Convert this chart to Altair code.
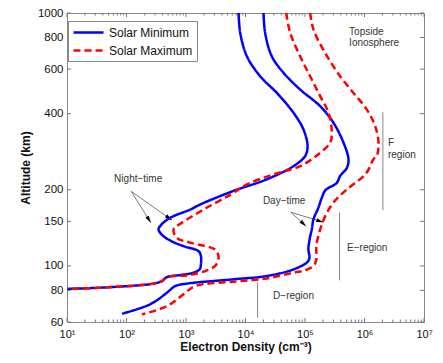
import math
import altair as alt
import pandas as pd

# ---------------- data ----------------
series_names = ["Solar Minimum", "Solar Maximum"]

min_night_h = [1000, 834, 674, 562, 483, 403, 346, 297, 272, 248, 220, 198, 175, 167, 155, 145,
               139.3, 131, 124, 119.7, 114.4, 109.4, 101.4, 97, 94, 92, 90.3, 87.1, 85.1, 82, 81.1]
min_night_n = [7650, 8150, 10570, 17660, 33650, 64100, 94400, 110400, 100700, 64100, 22860, 6310,
               1740, 1180, 543, 380, 345, 419, 620, 908, 1622, 1780, 1780, 1700, 1336, 800, 477,
               394, 285, 36, 10]

min_day_h = [1000, 834, 674, 580, 498, 428, 368, 307, 264, 244, 227, 213, 199, 185, 170, 153,
             139.4, 128, 116, 109, 106, 103, 96.8, 91.2, 88.5, 85.1, 83.2, 78.3, 70.5, 64.7]
min_day_n = [20100, 21400, 27700, 43600, 83000, 180000, 301000, 444000, 538000, 505000, 390000,
             342000, 220000, 190000, 168000, 139000, 130000, 120000, 114000, 119000, 117000,
             107000, 63800, 22800, 6280, 1035, 659, 477, 250, 84]

max_night_h = [1000, 834, 674, 562, 469, 403, 336, 307, 280, 248, 230, 210, 191, 167, 143.6,
               139.3, 129, 123.6, 116, 109, 104, 100, 96, 92, 90.3, 87.1, 85.1, 82, 81.1]
max_night_n = [48300, 56400, 83000, 122000, 180000, 248000, 283000, 265000, 180000, 83000, 29500,
               10570, 5520, 1968, 703, 617, 703, 1175, 3090, 3520, 3400, 3090, 2245, 1175, 477,
               394, 285, 36, 10]

max_day_h = [1000, 859, 695, 562, 483, 415, 357, 307, 272, 264, 240, 226, 200.5, 178, 157, 139.4,
             120, 106, 100, 96, 94, 89.2, 86.6, 83.2, 77.2, 69.3, 64.3]
max_day_n = [122000, 139000, 218000, 390000, 653000, 1094000, 1510000, 1720000, 1610000, 1410000,
             1167000, 957000, 503000, 300000, 218000, 180000, 155000, 155000, 139000, 100000,
             63800, 22800, 6280, 1426, 908, 477, 182]

x_major = [1e1, 1e2, 1e3, 1e4, 1e5, 1e6, 1e7]
x_minor = [k * 10 ** e for e in range(1, 7) for k in range(2, 10)]
y_ticks = [60, 80, 100, 150, 200, 400, 600, 800, 1000]

label_text = ["Topside", "Ionosphere", "F", "region", "E\u2212region", "D\u2212region"]
label_n = [551000, 551000, 2.48e6, 2.48e6, 509000, 29100]
label_h = [844, 763, 305, 275, 118, 75.8]

center_text = ["Night\u2212time", "Day\u2212time"]
center_n = [157, 44600]
center_h = [219.6, 179.8]

region_n = [2.03e6, 380000, 15960]
region_top = [405, 162.5, 86]
region_bot = [166, 87.7, 62.4]

arrow_n1 = [120, 120, 57800, 57800]
arrow_h1 = [197, 197, 163, 163]
arrow_n2 = [257, 580, 104300, 203700]
arrow_h2 = [148, 151.7, 143.6, 148.9]

# ---------------- layout ----------------
W, H = 357, 309
XD = [10, 1e7]
YD = [60, 1000]
FONT = "Liberation Sans"

rows = []
for curve, s, ns, hs in [("min_night", 0, min_night_n, min_night_h),
                         ("min_day", 0, min_day_n, min_day_h),
                         ("max_night", 1, max_night_n, max_night_h),
                         ("max_day", 1, max_day_n, max_day_h)]:
    for i, (n, h) in enumerate(zip(ns, hs)):
        rows.append({"curve": curve, "series": series_names[s], "N": n, "h": h, "i": i})
df = pd.DataFrame(rows)

xscale = alt.Scale(type="log", domain=XD, nice=False)
yscale = alt.Scale(type="log", domain=YD, nice=False)

sup = "['\u2070','\u00b9','\u00b2','\u00b3','\u2074','\u2075','\u2076','\u2077']"
xaxis = alt.Axis(title="Electron Density (cm\u207b\u00b3)", values=x_major,
                 labelExpr="'10' + " + sup + "[round(log(datum.value)/LN10)]",
                 ticks=False, tickSize=0, domain=False, grid=False, labelFontSize=11,
                 labelPadding=6, labelColor="#111", labelFlush=False,
                 titleFontSize=12, titleFontWeight="bold", titlePadding=2, titleColor="#111")
yaxis = alt.Axis(title="Altitude (km)", values=y_ticks, format="d", ticks=False, tickSize=0,
                 domain=False, grid=False, labelFontSize=11.5, labelPadding=4, labelColor="#111",
                 titleFontSize=12, titleFontWeight="bold", titlePadding=5, titleColor="#111")

X = lambda f="N": alt.X(f + ":Q", scale=xscale, axis=xaxis)
Y = lambda f="h": alt.Y(f + ":Q", scale=yscale, axis=yaxis)

leg = alt.Legend(title=None, orient="none", legendX=1, legendY=8,
                 symbolType="M-1,0L4,0", symbolSize=144, symbolStrokeWidth=2.5,
                 labelFontSize=12, labelColor="#111", labelOffset=22, padding=4,
                 strokeColor="#888", fillColor="white", rowPadding=4, labelFont=FONT)

lines = alt.Chart(df).mark_line(strokeWidth=2.5, interpolate="catmull-rom", clip=True).encode(
    x=X(), y=Y(),
    color=alt.Color("series:N", scale=alt.Scale(domain=series_names, range=["#0000ff", "#ff0000"]),
                    legend=leg),
    strokeDash=alt.StrokeDash("series:N", scale=alt.Scale(domain=series_names,
                                                          range=[[1, 0], [7, 4]]), legend=leg),
    detail="curve:N",
    order="i:Q",
)

# inside ticks (MATLAB style)
xmaj = pd.DataFrame({"N": x_major})
xmin = pd.DataFrame({"N": x_minor})
ytk = pd.DataFrame({"h": y_ticks})
tick_color = "#777"
ticks = [
    alt.Chart(xmaj).mark_rule(color=tick_color).encode(x=X(), y=alt.value(H), y2=alt.value(H - 4)),
    alt.Chart(xmaj).mark_rule(color=tick_color).encode(x=X(), y=alt.value(0), y2=alt.value(4)),
    alt.Chart(xmin).mark_rule(color=tick_color).encode(x=X(), y=alt.value(H), y2=alt.value(H - 2.5)),
    alt.Chart(xmin).mark_rule(color=tick_color).encode(x=X(), y=alt.value(0), y2=alt.value(2.5)),
    alt.Chart(ytk).mark_rule(color=tick_color).encode(y=Y(), x=alt.value(0), x2=alt.value(4)),
    alt.Chart(ytk).mark_rule(color=tick_color).encode(y=Y(), x=alt.value(W), x2=alt.value(W - 4)),
]

reg = pd.DataFrame({"N": region_n, "h": region_top, "h2": region_bot})
reg_f = alt.Chart(reg.iloc[:1]).mark_rule(color="#b4b4b4", strokeWidth=1.6).encode(
    x=X(), y=Y(), y2="h2:Q")
reg_ed = alt.Chart(reg.iloc[1:]).mark_rule(color="#808080", strokeWidth=1).encode(
    x=X(), y=Y(), y2="h2:Q")

labels = alt.Chart(pd.DataFrame({"N": label_n, "h": label_h, "t": label_text})).mark_text(
    align="left", baseline="middle", fontSize=10, color="#333", font=FONT).encode(
    x=X(), y=Y(), text="t:N")
centers = alt.Chart(pd.DataFrame({"N": center_n, "h": center_h, "t": center_text})).mark_text(
    align="center", baseline="middle", fontSize=10, color="#333", font=FONT).encode(
    x=X(), y=Y(), text="t:N")

kx = W / (math.log10(XD[1]) - math.log10(XD[0]))
ky = H / (math.log10(YD[1]) - math.log10(YD[0]))
angles = []
for n1, h1, n2, h2 in zip(arrow_n1, arrow_h1, arrow_n2, arrow_h2):
    dx = (math.log10(n2) - math.log10(n1)) * kx
    dy = -(math.log10(h2) - math.log10(h1)) * ky
    angles.append(math.degrees(math.atan2(dx, -dy)) % 360)
arr = pd.DataFrame({"N": arrow_n1, "h": arrow_h1, "N2": arrow_n2, "h2": arrow_h2, "a": angles})
arrow_lines = alt.Chart(arr).mark_rule(color="#444", strokeWidth=0.7).encode(
    x=X(), y=Y(), x2="N2:Q", y2="h2:Q")
arrow_heads = alt.Chart(arr).mark_point(shape="M0,0L0.5,1.8L-0.5,1.8Z", filled=True,
                                        color="black", opacity=1, size=64).encode(
    x=X("N2"), y=Y("h2"), angle=alt.Angle("a:Q", scale=None))

chart = alt.layer(
    reg_f, reg_ed, labels, centers, arrow_lines, arrow_heads, *ticks, lines
).properties(
    width=W, height=H,
    autosize=alt.AutoSizeParams(type="none"),
    padding={"left": 59, "top": 5, "right": 11, "bottom": 33},
).configure(font=FONT).configure_view(stroke="#888", strokeWidth=1)

chart.save("out.html", embed_options={"renderer": "svg", "actions": False})
